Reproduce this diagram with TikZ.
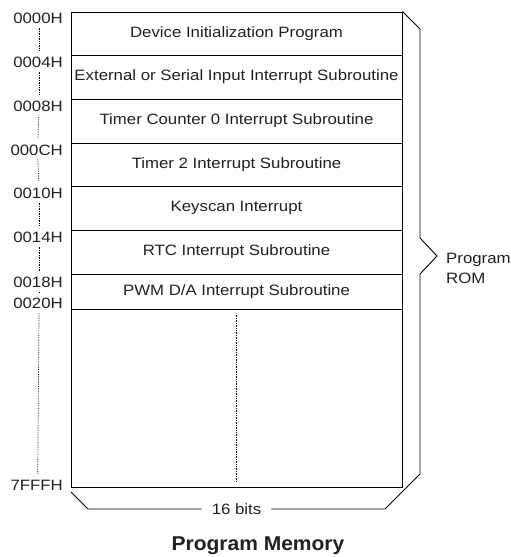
\documentclass[tikz,border=0pt]{standalone}
\usepackage{fontspec}
\usetikzlibrary{calc}
\setmainfont{Liberation Sans}[FakeStretch=1.12]
\newfontfamily\titlefont{Liberation Sans}[FakeStretch=1.05]
\definecolor{txt}{HTML}{231F20}
\tikzset{
  row/.style={draw=black, line width=0.9pt, minimum width=331pt, inner sep=0pt,
    font=\fontsize{15}{17}\selectfont, text=txt},
  addr/.style={anchor=east, inner sep=1pt, font=\fontsize{15}{17}\selectfont, text=txt},
  dots/.style={line width=0.7pt, dash pattern=on 0.7pt off 1.0pt, draw=black},
  bracel/.style={line width=0.9pt, draw=black, line join=miter},
}
\begin{document}
\begin{tikzpicture}[x=1pt,y=-1pt]
\useasboundingbox (0,0) rectangle (511,557);
% rows
\node[row, minimum height=43pt] (r1) at (236.5,33.5) {Device Initialization Program};
\node[row, minimum height=44pt] (r2) at (236.5,77) {External or Serial Input Interrupt Subroutine};
\node[row, minimum height=44pt] (r3) at (236.5,121) {Timer Counter 0 Interrupt Subroutine};
\node[row, minimum height=43pt] (r4) at (236.5,164.5) {Timer 2 Interrupt Subroutine};
\node[row, minimum height=44pt] (r5) at (236.5,208) {Keyscan Interrupt};
\node[row, minimum height=44pt] (r6) at (236.5,252) {RTC Interrupt Subroutine};
\node[row, minimum height=35pt] (r7) at (236.5,291.5) {PWM D/A Interrupt Subroutine};
\node[row, minimum height=178pt] (r8) at (236.5,398) {};
% addresses
\node[addr] (a0) at (64,18) {0000H};
\node[addr] (a1) at (64,62) {0004H};
\node[addr] (a2) at (64,106) {0008H};
\node[addr] (a3) at (64,150) {000CH};
\node[addr] (a4) at (64,193) {0010H};
\node[addr] (a5) at (64,237) {0014H};
\node[addr] (a6) at (64,282) {0018H};
\node[addr] (a7) at (64,303.5) {0020H};
\node[addr] (a8) at (64,485) {7FFFH};
% dotted address continuation
\foreach \p/\q in {a0/a1,a1/a2,a2/a3,a3/a4,a4/a5,a5/a6,a6/a7,a7/a8}
  \draw[dots, shorten <=3pt, shorten >=5pt] ($(\p.south)+(1,0)$) -- ($(\q.north)+(1,0)$);
% centre dotted line
\draw[dots, shorten <=6pt, shorten >=5pt] (r8.north) -- (r8.south);
% 16 bits and brace
\node[inner xsep=10pt, inner ysep=0pt, font=\fontsize{15}{17}\selectfont, text=txt] (bits) at (236.5,509) {16 bits};
\node[anchor=west, align=left, inner sep=0pt, font=\fontsize{15}{20}\selectfont, text=txt] (rom) at (446,268) {Program\\ROM};
\draw[bracel] (r1.north east) -- (420,29) -- (420,238) -- (437,256) -- (420,274) -- (420,474) -- (385,509) -- (bits.east);
\draw[bracel] (bits.west) -- (88,509) -- (71,492);
% title
\node[font=\titlefont\bfseries\fontsize{20}{22}\selectfont, text=txt, inner sep=0pt] (title) at (258,546) {Program Memory};
\end{tikzpicture}
\end{document}
